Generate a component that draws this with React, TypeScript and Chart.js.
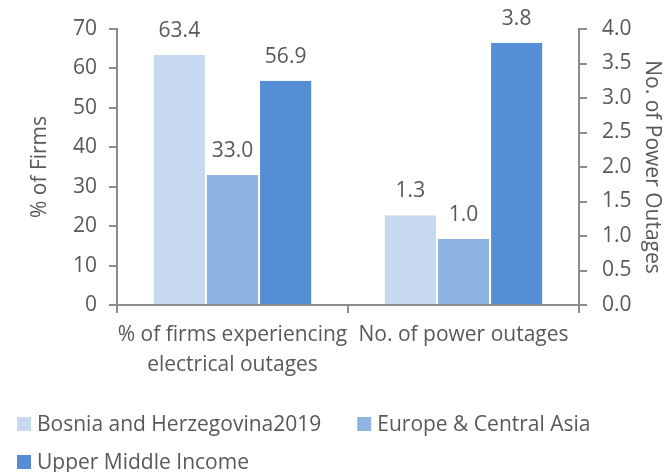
import React, { useEffect, useRef } from "react";
import { Chart, registerables } from "chart.js";

Chart.register(...registerables);

const categories: (string | string[])[] = [["% of firms experiencing", "electrical outages"], "No. of power outages"];
const seriesNames = ["Bosnia and Herzegovina2019", "Europe & Central Asia", "Upper Middle Income"];
const pctFirmsOutages = [63.4, 33.0, 56.9];
const numPowerOutages = [1.3, 0.96, 3.8];
const seriesColors = ["#C6D9F0", "#8EB4E3", "#558ED5"];
const leftAxisTitle = "% of Firms";
const rightAxisTitle = "No. of Power Outages";

const FONT = "'Open Sans'";
const SIZE = 21;
const TEXT = "#595959";
const AXIS = "#8C8C8C";

const labelPlugin = {
  id: "valueLabels",
  afterDatasetsDraw(chart: any) {
    const ctx = chart.ctx;
    ctx.save();
    ctx.font = `${SIZE}px ${FONT}`;
    ctx.fillStyle = TEXT;
    ctx.textAlign = "center";
    ctx.textBaseline = "alphabetic";
    chart.data.datasets.forEach((ds: any, di: number) => {
      const meta = chart.getDatasetMeta(di);
      meta.data.forEach((el: any, i: number) => {
        const v = ds.data[i];
        if (v === null || v === undefined) return;
        ctx.fillText(v.toFixed(1), el.x, el.y - 18);
      });
    });
    ctx.restore();
  },
};

// Custom left-aligned, wrapping legend drawn below the x axis
const legendPlugin = {
  id: "customLegend",
  afterDraw(chart: any) {
    const ctx = chart.ctx;
    ctx.save();
    ctx.font = `${SIZE}px ${FONT}`;
    ctx.textAlign = "left";
    ctx.textBaseline = "alphabetic";
    const box = 14;
    const textGap = 6;
    const itemGap = 36;
    const startX = 17;
    const rowH = 38;
    let x = startX;
    let baseY = 431;
    const maxX = chart.width - 10;
    chart.data.datasets.slice(0, 3).forEach((ds: any) => {
      const w = box + textGap + ctx.measureText(ds.label).width;
      if (x > startX && x + w > maxX) {
        x = startX;
        baseY += rowH;
      }
      ctx.fillStyle = ds.backgroundColor;
      ctx.fillRect(x, baseY - box, box, box);
      ctx.fillStyle = TEXT;
      ctx.fillText(ds.label, x + box + textGap, baseY);
      x += w + itemGap;
    });
    ctx.restore();
  },
};

export default function App() {
  const ref = useRef<HTMLCanvasElement>(null);
  useEffect(() => {
    if (!ref.current) return;
    const datasets: any[] = [];
    seriesNames.forEach((name, i) => {
      datasets.push({
        label: name,
        data: [pctFirmsOutages[i], null],
        yAxisID: "y",
        backgroundColor: seriesColors[i],
        borderColor: "#FFFFFF",
        borderWidth: { left: 1, right: 1, top: 0, bottom: 0 },
        borderSkipped: false,
      });
    });
    seriesNames.forEach((name, i) => {
      datasets.push({
        label: name,
        data: [null, numPowerOutages[i]],
        yAxisID: "y1",
        backgroundColor: seriesColors[i],
        borderColor: "#FFFFFF",
        borderWidth: { left: 1, right: 1, top: 0, bottom: 0 },
        borderSkipped: false,
      });
    });
    const font = { family: FONT, size: SIZE };
    const chart = new Chart(ref.current, {
      type: "bar",
      data: { labels: categories, datasets },
      plugins: [labelPlugin, legendPlugin],
      options: {
        responsive: false,
        animation: false,
        devicePixelRatio: 1,
        skipNull: true,
        categoryPercentage: 0.69,
        barPercentage: 1.0,
        layout: { padding: { top: 29, right: 0, left: 0, bottom: 77 } },
        plugins: {
          tooltip: { enabled: false },
          legend: { display: false },
        },
        scales: {
          x: {
            grid: { display: true, drawOnChartArea: false, drawTicks: true, tickLength: 8, color: AXIS, lineWidth: 2, offset: true },
            border: { display: true, color: AXIS, width: 2 },
            ticks: { font: { ...font, lineHeight: 30 / 21 }, color: TEXT, padding: 7, maxRotation: 0, autoSkip: false },
            afterFit: (s: any) => { s.height = 90; },
          },
          y: {
            position: "left",
            min: 0,
            max: 70,
            ticks: { stepSize: 10, font, color: TEXT, padding: 12 },
            grid: { display: true, drawOnChartArea: false, drawTicks: true, tickLength: 8, color: AXIS, lineWidth: 2 },
            border: { display: true, color: AXIS, width: 2 },
            title: { display: true, text: leftAxisTitle, font, color: TEXT, padding: { top: 27, bottom: 0 } },
            afterFit: (s: any) => { s.width = 117; },
          },
          y1: {
            position: "right",
            min: 0,
            max: 4,
            ticks: { stepSize: 0.5, font, color: TEXT, padding: 15, callback: (v: any) => Number(v).toFixed(1) },
            grid: { display: true, drawOnChartArea: false, drawTicks: true, tickLength: 8, color: AXIS, lineWidth: 2 },
            border: { display: true, color: AXIS, width: 2 },
            title: { display: true, text: rightAxisTitle, font, color: TEXT, padding: { top: 0, bottom: 0 } },
            afterFit: (s: any) => { s.width = 86; },
          },
        },
      } as any,
    });
    return () => chart.destroy();
  }, []);
  return (
    <div style={{ position: "absolute", left: 0, top: 0, width: 665, height: 472, background: "#fff" }}>
      <canvas ref={ref} width={665} height={472} />
    </div>
  );
}
